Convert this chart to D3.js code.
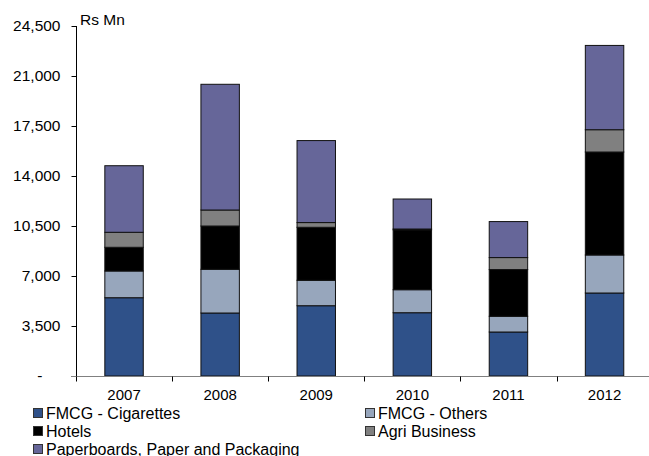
<!DOCTYPE html>
<html>
<head>
<meta charset="utf-8">
<script src="https://cdn.jsdelivr.net/npm/d3@7/dist/d3.min.js"></script>
<style>
  html, body { margin: 0; padding: 0; background: #fff; }
  svg { display: block; font-family: "Liberation Sans", Arial, sans-serif; }
</style>
</head>
<body>
<svg id="chart" width="649" height="456"></svg>
<script>
// Segment revenue by year, Rs Mn
const years = ["2007", "2008", "2009", "2010", "2011", "2012"];
const cigarettes = [5480, 4410, 4920, 4430, 3080, 5810];
const fmcgOthers = [1870, 3060, 1780, 1610, 1100, 2660];
const hotels = [1660, 3030, 3710, 4190, 3270, 7210];
const agri = [1050, 1120, 330, 60, 840, 1560];
const paper = [4660, 8800, 5740, 2100, 2520, 5900];
const yTicks = [0, 3500, 7000, 10500, 14000, 17500, 21000, 24500];

const seriesNames = ["FMCG - Cigarettes", "FMCG - Others", "Hotels", "Agri Business", "Paperboards, Paper and Packaging"];
const seriesValues = [cigarettes, fmcgOthers, hotels, agri, paper];
const colors = ["#2F5189", "#97A6BC", "#000000", "#808080", "#666699"];

const svg = d3.select("#chart");

const x = d3.scaleBand().domain(years).range([76, 652.6]).paddingInner(0.6).paddingOuter(0.3);
const y = d3.scaleLinear().domain([0, 24500]).range([376, 26]);

// Stack rows: one object per year
const rows = years.map((yr, i) => {
  const r = { year: yr };
  seriesNames.forEach((n, k) => { r[n] = seriesValues[k][i]; });
  return r;
});
const stacked = d3.stack().keys(seriesNames)(rows);

// Bars
svg.append("g").selectAll("g")
  .data(stacked)
  .join("g")
  .attr("fill", (d, i) => colors[i])
  .selectAll("rect")
  .data(d => d)
  .join("rect")
  .attr("x", d => x(d.data.year))
  .attr("y", d => y(d[1]))
  .attr("width", x.bandwidth())
  .attr("height", d => y(d[0]) - y(d[1]))
  .attr("stroke", "#111")
  .attr("stroke-width", 1);

// Y axis
const yAxis = svg.append("g")
  .attr("transform", "translate(76.5,0)")
  .call(d3.axisLeft(y).tickValues(yTicks).tickSize(5).tickPadding(11)
    .tickFormat(v => v === 0 ? "-" : d3.format(",")(v)));
yAxis.select(".domain").attr("stroke", "#000").attr("d", "M0," + y(24500) + "V" + y(0));
yAxis.selectAll("text").attr("font-size", 15.5).attr("fill", "#000")
  .attr("font-family", "Liberation Sans, Arial, sans-serif")
  .attr("dx", v => v === 0 ? -18 : 0);
yAxis.selectAll(".tick line").attr("stroke", "#000");

// X axis: labels centred on bands, ticks at band boundaries
const xAxis = svg.append("g")
  .attr("transform", "translate(0,376.5)")
  .call(d3.axisBottom(x).tickSize(0).tickPadding(13));
xAxis.select(".domain").attr("stroke", "#808080").attr("d", "M71," + 0 + "H649");
xAxis.selectAll("text").attr("font-size", 15).attr("fill", "#000")
  .attr("font-family", "Liberation Sans, Arial, sans-serif");
const step = x.step();
const bounds = years.map((yr, i) => x.range()[0] + i * step);
xAxis.append("g").selectAll("line")
  .data(bounds)
  .join("line")
  .attr("x1", d => Math.round(d) + 0.5)
  .attr("x2", d => Math.round(d) + 0.5)
  .attr("y1", 0)
  .attr("y2", 5)
  .attr("stroke", "#000");

// Unit label
svg.append("text")
  .attr("x", 80)
  .attr("y", 25)
  .attr("font-size", 15.5)
  .text("Rs Mn");

// Legend
const legendPos = [
  [33, 413], [365, 413],
  [33, 431], [365, 431],
  [33, 449]
];
const legend = svg.append("g").selectAll("g")
  .data(seriesNames)
  .join("g")
  .attr("transform", (d, i) => `translate(${legendPos[i][0]},${legendPos[i][1]})`);
legend.append("rect")
  .attr("x", 0.5).attr("y", -4.5)
  .attr("width", 9).attr("height", 9)
  .attr("fill", (d, i) => colors[i])
  .attr("stroke", "#333");
legend.append("text")
  .attr("x", 13)
  .attr("y", 5.5)
  .attr("font-size", 16)
  .text(d => d);
</script>
</body>
</html>
